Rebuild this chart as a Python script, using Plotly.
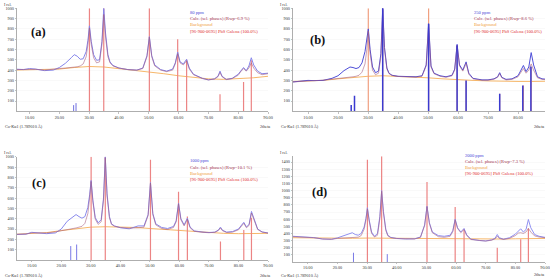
import plotly.graph_objects as go

W, H = 550, 280

# ---------------- data ----------------
two_theta = [5, 8, 10, 12, 15, 18, 20, 22, 24, 25, 26, 27, 28, 29, 29.6, 30.1, 30.7, 31.5, 32.5, 33.5,
             34.3, 34.9, 35.5, 36.3, 37, 38, 40, 43, 46, 48, 49.4, 50.2, 51, 52, 54, 56, 58, 58.9, 59.7, 60.5,
             61.6, 62.7, 63.6, 65, 68, 70, 72, 73.2, 73.9, 74.6, 76, 78, 80, 81, 81.8, 82.7, 83.6, 84.4, 85.2, 86.5,
             88, 90]

obs_a = [410, 405, 415, 410, 395, 400, 425, 465, 520, 550, 535, 505, 510, 580, 690, 830, 680, 550, 495, 500,
         680, 1000, 760, 550, 480, 445, 420, 405, 400, 420, 540, 725, 540, 450, 405, 390, 410, 470, 575, 480,
         460, 505, 420, 360, 320, 305, 315, 340, 390, 340, 310, 320, 360, 400, 425, 395, 440, 520, 450, 390,
         365, 370]
calc_a = [405, 405, 410, 408, 400, 405, 415, 420, 425, 428, 432, 440, 460, 530, 650, 810, 650, 520, 470, 480,
          650, 940, 720, 530, 470, 440, 420, 405, 400, 415, 530, 720, 530, 440, 400, 385, 400, 460, 560, 470,
          450, 490, 410, 355, 318, 305, 312, 335, 375, 335, 308, 318, 350, 390, 415, 390, 420, 470, 420, 375,
          355, 365]

obs_b = [285, 295, 300, 298, 300, 320, 345, 395, 430, 425, 415, 425, 470, 580, 680, 800, 600, 430, 375, 390,
         560, 1000, 620, 420, 370, 350, 340, 335, 335, 345, 450, 850, 440, 370, 345, 335, 350, 410, 650, 450,
         400, 480, 370, 320, 305, 305, 315, 335, 375, 330, 310, 315, 345, 400, 445, 385, 430, 570, 450, 335,
         315, 310]
calc_b = [285, 292, 298, 298, 302, 310, 318, 325, 332, 335, 340, 350, 380, 460, 600, 780, 560, 400, 355, 370,
          530, 980, 600, 410, 365, 348, 338, 333, 332, 340, 440, 840, 430, 365, 340, 330, 345, 400, 640, 440,
          390, 465, 360, 315, 302, 302, 312, 330, 365, 325, 305, 310, 335, 380, 415, 370, 400, 460, 400, 325,
          310, 305]

obs_c = [248, 250, 268, 265, 255, 262, 300, 375, 420, 440, 420, 405, 420, 510, 630, 770, 580, 410, 360, 390,
         600, 1000, 640, 420, 350, 330, 312, 302, 330, 330, 440, 750, 450, 350, 315, 305, 325, 380, 550, 400,
         340, 405, 320, 282, 270, 266, 270, 290, 318, 288, 270, 275, 300, 340, 365, 320, 345, 470, 400, 300,
         272, 262]
calc_c = [248, 252, 262, 263, 262, 272, 285, 295, 305, 310, 316, 326, 355, 450, 600, 760, 560, 395, 345, 370,
          580, 990, 620, 410, 345, 327, 315, 308, 312, 318, 430, 745, 440, 340, 305, 295, 315, 370, 545, 390,
          330, 395, 312, 278, 268, 264, 268, 285, 310, 283, 266, 270, 292, 330, 355, 312, 335, 455, 390, 295,
          270, 260]

obs_d = [360, 355, 350, 342, 322, 318, 338, 368, 390, 410, 385, 375, 400, 490, 610, 760, 590, 420, 360, 400,
         640, 1000, 710, 460, 375, 345, 330, 322, 325, 350, 520, 780, 550, 420, 370, 360, 375, 440, 600, 480,
         420, 470, 380, 320, 300, 295, 310, 335, 385, 340, 320, 340, 390, 430, 465, 420, 455, 595, 480, 385,
         360, 345]
calc_d = [355, 352, 348, 340, 322, 318, 330, 335, 338, 340, 342, 348, 370, 460, 590, 745, 570, 400, 350, 375,
          610, 990, 690, 440, 365, 340, 328, 320, 322, 345, 510, 775, 540, 410, 355, 345, 360, 425, 590, 470,
          410, 455, 370, 315, 298, 293, 305, 325, 360, 330, 315, 330, 370, 405, 410, 400, 420, 470, 420, 365,
          350, 340]

bg_theta = [5, 10, 15, 20, 25, 30, 35, 40, 45, 50, 55, 60, 65, 70, 75, 80, 85, 90]
bg_a = [400, 402, 402, 410, 425, 435, 430, 415, 400, 385, 365, 345, 330, 315, 310, 315, 325, 340]
bg_b = [290, 295, 300, 315, 330, 340, 345, 340, 335, 325, 315, 305, 300, 295, 290, 290, 290, 292]
bg_c = [250, 258, 265, 285, 305, 318, 322, 320, 315, 305, 295, 285, 275, 265, 258, 255, 255, 258]
bg_d = [340, 336, 332, 330, 332, 335, 333, 330, 330, 330, 328, 325, 322, 320, 322, 325, 328, 330]

pbs_theta = [30.1, 34.9, 50.2, 59.7, 62.7, 73.9, 81.8, 84.4]
pbs_a = [1000, 1000, 1000, 700, 500, 165, 285, 495]
pbs_b = [1000, 1000, 1000, 640, 300, 170, 250, 430]
pbs_c = [1000, 1000, 970, 660, 420, 180, 290, 410]
pbs_d = [1430, 1480, 1120, 770, 460, 200, 320, 470]

peaks_a_theta = [24.8, 25.6]
peaks_a = [60, 80]
peaks_b_theta = [24.4, 25.5, 34.9, 50.2, 59.7, 62.7, 73.9, 81.6, 84.3]
peaks_b = [60, 150, 1000, 850, 640, 300, 170, 250, 435]
peaks_c_theta = [23.2, 25.2]
peaks_c = [135, 150]
peaks_d_theta = [25.4, 36.8]
peaks_d = [130, 110]

samples = ["80 ppm", "250 ppm", "1000 ppm", "2000 ppm"]
rwp = ["6.9", "8.6", "10.1", "7.3"]
panel_tags = ["(a)", "(b)", "(c)", "(d)"]
x_ticks = [10, 20, 30, 40, 50, 60, 70, 80, 90]
y_ticks_1000 = [100, 200, 300, 400, 500, 600, 700, 800, 900, 1000]
y_ticks_1400 = [100, 200, 300, 400, 500, 600, 700, 800, 900, 1000, 1100, 1200, 1300, 1400]

# ---------------- layout helpers ----------------
def px_x(v):
    return v / W

def px_y(v):
    return 1 - v / H

SERIF = "Liberation Serif"
OBS_COL = ["#8585ea", "#4f4fd8", "#8a8aec", "#9090f0"]
CALC_COL = "#a4587a"
BG_COL = "#f4a444"
PBS_COL = ["#ec8484", "#f0a080", "#ec8484", "#ec8484"]
PEAK_COL = ["#7070e0", "#3a3ad0", "#7a7ae6", "#7a7ae6"]

panels = [
    dict(obs=obs_a, calc=calc_a, bg=bg_a, pbs=pbs_a, pk_t=peaks_a_theta, pk=peaks_a,
         xd=[17, 268], yd=[111.3, 8.3], xr=[5.8, 90], yr=[0, 1000], yt=y_ticks_1000,
         leg=(188, 12.3), tag=(29, 32), irel=(2, 4.5), co=(3, 127), th=(258, 127), xt=x_ticks),
    dict(obs=obs_b, calc=calc_b, bg=bg_b, pbs=pbs_b, pk_t=peaks_b_theta, pk=peaks_b,
         xd=[293, 545], yd=[111.3, 8.3], xr=[5, 89], yr=[0, 1000], yt=y_ticks_1000,
         leg=(472, 12.3), tag=(308, 40), irel=(278, 4.5), co=(279, 127), th=(532, 127), xt=x_ticks[:-1]),
    dict(obs=obs_c, calc=calc_c, bg=bg_c, pbs=pbs_c, pk_t=peaks_c_theta, pk=peaks_c,
         xd=[17, 268], yd=[260, 156.7], xr=[5, 90], yr=[0, 1000], yt=y_ticks_1000,
         leg=(188, 160.7), tag=(30, 183), irel=(2, 152), co=(3, 275.5), th=(258, 275.5), xt=x_ticks),
    dict(obs=obs_d, calc=calc_d, bg=bg_d, pbs=pbs_d, pk_t=peaks_d_theta, pk=peaks_d,
         xd=[293, 545], yd=[262, 156.3], xr=[5, 90], yr=[0, 1480], yt=y_ticks_1400,
         leg=(463, 155), tag=(310, 192), irel=(278, 152), co=(279, 275.5), th=(532, 274), xt=x_ticks),
]

fig = go.Figure()
annotations = []
layout_axes = {}

def sticks(pos, hts):
    xs, ys = [], []
    for p, h in zip(pos, hts):
        xs += [p, p, None]
        ys += [0, h, None]
    return xs, ys

for i, P in enumerate(panels):
    n = i + 1
    xa = "x" if n == 1 else f"x{n}"
    ya = "y" if n == 1 else f"y{n}"
    fig.add_trace(go.Scatter(x=bg_theta, y=P["bg"], mode="lines", line=dict(color=BG_COL, width=0.8),
                             xaxis=xa, yaxis=ya, showlegend=False))
    sx, sy = sticks(pbs_theta, P["pbs"])
    fig.add_trace(go.Scatter(x=sx, y=sy, mode="lines", line=dict(color=PBS_COL[i], width=1.2),
                             xaxis=xa, yaxis=ya, showlegend=False, hoverinfo="skip"))
    fig.add_trace(go.Scatter(x=two_theta, y=P["obs"], mode="lines",
                             line=dict(color=OBS_COL[i], width=1),
                             xaxis=xa, yaxis=ya, showlegend=False))
    fig.add_trace(go.Scatter(x=two_theta, y=P["calc"], mode="lines",
                             line=dict(color=CALC_COL, width=0.8), opacity=0.7,
                             xaxis=xa, yaxis=ya, showlegend=False))
    bx, by = sticks(P["pk_t"], P["pk"])
    fig.add_trace(go.Scatter(x=bx, y=by, mode="lines",
                             line=dict(color=PEAK_COL[i], width=1.5 if i == 1 else 1),
                             xaxis=xa, yaxis=ya, showlegend=False, hoverinfo="skip"))

    xkey = "xaxis" if n == 1 else f"xaxis{n}"
    ykey = "yaxis" if n == 1 else f"yaxis{n}"
    layout_axes[xkey] = dict(
        domain=[px_x(P["xd"][0]), px_x(P["xd"][1])], range=P["xr"], anchor=ya, automargin=False,
        tickvals=P["xt"], ticktext=[f"{v:.2f}" for v in P["xt"]],
        tickfont=dict(family=SERIF, size=4.2, color="#333"),
        showline=True, linecolor="#9a9a9a", linewidth=0.8, mirror=False,
        ticks="outside", ticklen=1.5, tickcolor="#9a9a9a", tickwidth=0.6,
        showgrid=False, zeroline=False, fixedrange=True)
    layout_axes[ykey] = dict(
        domain=[px_y(P["yd"][0]), px_y(P["yd"][1])], range=P["yr"], anchor=xa, automargin=False,
        tickvals=P["yt"], ticktext=[str(v) for v in P["yt"]],
        tickfont=dict(family=SERIF, size=4.2, color="#333"),
        showline=True, linecolor="#9a9a9a", linewidth=0.8,
        ticks="outside", ticklen=1.5, tickcolor="#9a9a9a", tickwidth=0.6,
        showgrid=True, gridcolor="#f4f4f4", gridwidth=0.5, zeroline=False, fixedrange=True)

    lx, ly = P["leg"]
    leg_lines = [(samples[i], "#4848d8"),
                 (f"Calc. (sel. phases) (Rwp={rwp[i]} %)", "#a0304c"),
                 ("Background", "#f0a040"),
                 ("[96-900-0695] PbS Galena (100.0%)", "#e03030")]
    for k, (t, c) in enumerate(leg_lines):
        annotations.append(dict(x=px_x(lx), y=px_y(ly + k * 6.3), xref="paper", yref="paper",
                                text=t, showarrow=False, xanchor="left", yanchor="middle",
                                font=dict(family=SERIF, size=4.6, color=c)))
    tx, ty = P["tag"]
    annotations.append(dict(x=px_x(tx), y=px_y(ty), xref="paper", yref="paper",
                            text=f"<b>{panel_tags[i]}</b>", showarrow=False,
                            xanchor="left", yanchor="middle",
                            font=dict(family=SERIF, size=12.5, color="#111")))
    ix, iy = P["irel"]
    annotations.append(dict(x=px_x(ix), y=px_y(iy), xref="paper", yref="paper", text="I rel.",
                            showarrow=False, xanchor="left", yanchor="middle",
                            font=dict(family=SERIF, size=4.0, color="#333")))
    cx, cy = P["co"]
    annotations.append(dict(x=px_x(cx), y=px_y(cy), xref="paper", yref="paper",
                            text="Co-Kα1 (1.789010 Å)", showarrow=False, xanchor="left",
                            yanchor="middle", font=dict(family=SERIF, size=4.2, color="#333")))
    hx, hy = P["th"]
    annotations.append(dict(x=px_x(hx), y=px_y(hy), xref="paper", yref="paper",
                            text="2theta", showarrow=False, xanchor="left",
                            yanchor="middle", font=dict(family=SERIF, size=4.2, color="#333")))

fig.update_layout(width=W, height=H, margin=dict(l=0, r=0, t=0, b=0, autoexpand=False),
                  paper_bgcolor="white", plot_bgcolor="white", hovermode=False,
                  showlegend=False, annotations=annotations, **layout_axes)

fig.write_html("out.html", config={"displayModeBar": False, "staticPlot": True},
               post_script="document.body.style.margin='0';document.body.style.padding='0';"
                           "document.documentElement.style.overflow='hidden';")
